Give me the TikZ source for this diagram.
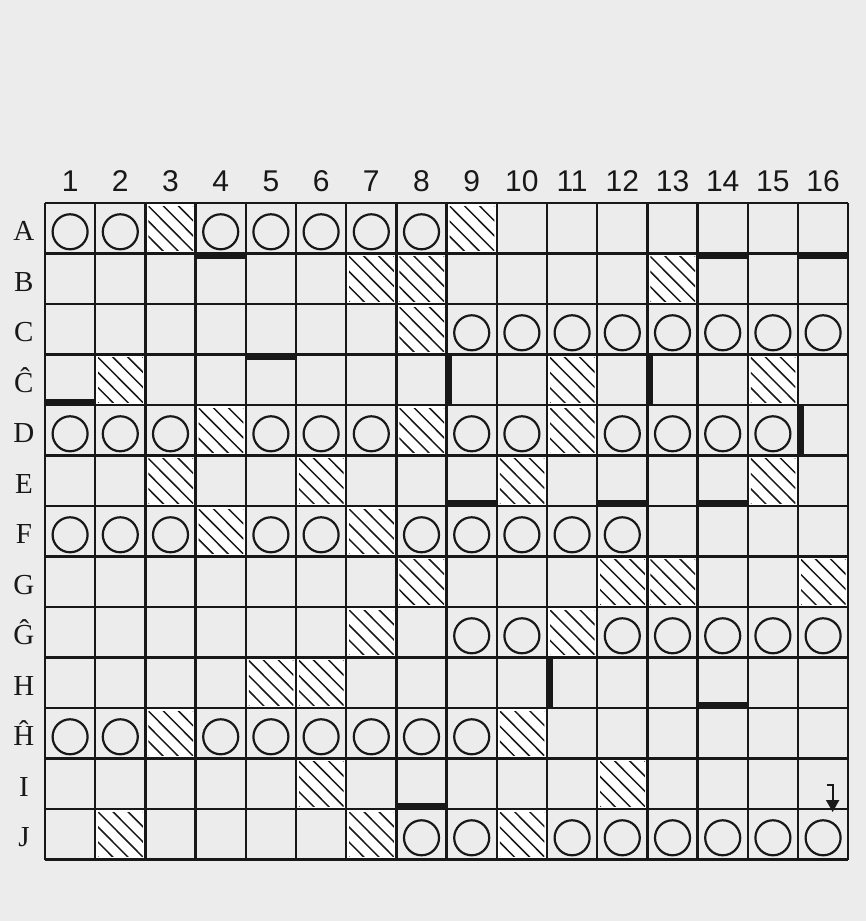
\documentclass[tikz,border=0pt]{standalone}
\usepackage{fontspec}
\setmainfont{Liberation Serif}
\newfontfamily\numfont{Liberation Sans}
\usetikzlibrary{arrows.meta}

\definecolor{paper}{RGB}{236,236,236}
\definecolor{ink}{RGB}{24,24,24}

\begin{document}
\begin{tikzpicture}[x=50.2pt,y=-50.5pt,
		gridline/.style={ink,line width=2.4pt},
		hatchline/.style={ink,line width=1.5pt},
		ring/.style={ink,line width=2.2pt},
		wall/.style={ink},
		rowlab/.style={ink,anchor=base,inner sep=0pt,font=\fontsize{29}{30}\selectfont},
		collab/.style={ink,anchor=base,inner sep=0pt,font=\numfont\fontsize{30}{32}\selectfont}]
		% page
		\fill[paper] (-45pt,203pt) rectangle (821pt,-718pt);
		\useasboundingbox (-45pt,203pt) rectangle (821pt,-718pt);
		
		% hatched cells
		\foreach \c/\r in {3/1,9/1,7/2,8/2,13/2,8/3,2/4,11/4,15/4,4/5,8/5,11/5,
			3/6,6/6,10/6,15/6,4/7,7/7,8/8,12/8,13/8,16/8,7/9,11/9,5/10,6/10,
			3/11,10/11,6/12,12/12,2/13,7/13,10/13}{
			\begin{scope}
				\fill[white] (\c-1,\r-1) rectangle (\c,\r);
				\clip (\c-0.94,\r-0.94) rectangle (\c-0.05,\r-0.05);
				\foreach \k in {-0.9,-0.6,...,0.9}
					\draw[hatchline] (\c-1+\k,\r-1) -- (\c+\k,\r);
			\end{scope}
		}
		
		% grid
		\foreach \c in {0,...,16}
			\draw[gridline] (\c,0) -- (\c,13);
		\foreach \r in {0,...,13}
			\draw[gridline] (0,\r) -- (16,\r);
		
		% circles
		\foreach \r/\cols in {1/{1,2,4,5,6,7,8},3/{9,...,16},
			5/{1,2,3,5,6,7,9,10,12,13,14,15},7/{1,2,3,5,6,8,9,10,11,12},
			9/{9,10,12,13,14,15,16},11/{1,2,4,5,6,7,8,9},13/{8,9,11,12,13,14,15,16}}{
			\foreach \c in \cols
				\draw[ring] (\c-0.5,\r-0.43) circle (17.5pt);
		}
		
		% walls: top, bottom and left edge of a cell
		\foreach \c/\r in {4/2,14/2,16/2,5/4}
			\fill[wall] (\c-1,\r-1) rectangle (\c,\r-0.89);
		\foreach \c/\r in {1/4,9/6,12/6,14/6,14/10,8/12}
			\fill[wall] (\c-1,\r-0.11) rectangle (\c,\r);
		\foreach \c/\r in {9/4,13/4,16/5,11/10}
			\fill[wall] (\c-1,\r-1) rectangle (\c-0.885,\r);
		
		% labels
		\foreach \c in {1,...,16}
			\node[collab] (col\c) at (\c-0.5,-0.22) {\c};
		\foreach \r/\lab in {1/A,2/B,3/C,4/Ĉ,5/D,6/E,7/F,8/G,9/Ĝ,10/H,11/Ĥ,12/I,13/J}
			\node[rowlab] (row\r) at (-0.42,\r-0.25) {\lab};
		
		% start arrow
		\coordinate (hook) at (15.57,11.52);
		\coordinate (bend) at (15.69,11.52);
		\coordinate (tip) at (15.69,12.06);
		\draw[ink,line width=2pt,-{Triangle[length=12pt,width=13pt]}] (hook) -- (bend) -- (tip);
	\end{tikzpicture}
\end{document}
